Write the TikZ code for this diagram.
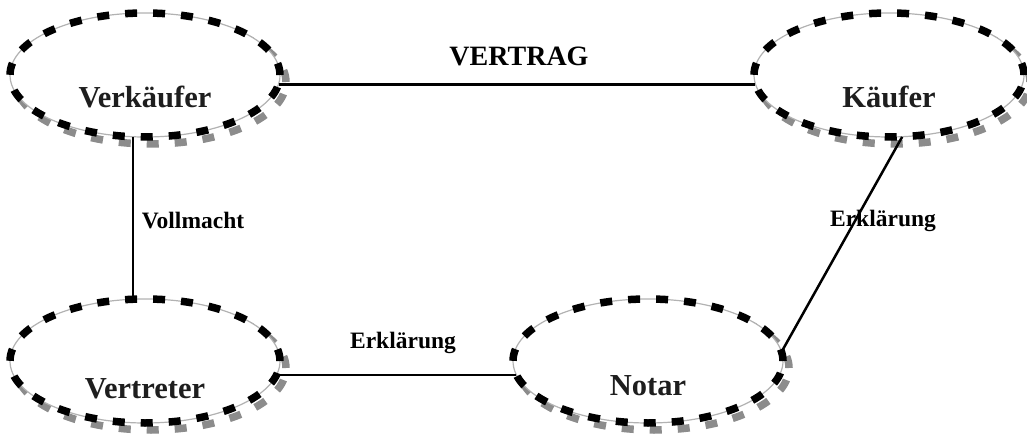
\documentclass[tikz,border=0pt]{standalone}
\usepackage{fontspec}
\setmainfont{Liberation Serif}
\usetikzlibrary{shapes.geometric}
\definecolor{txtc}{HTML}{1E1E1E}
\definecolor{shadc}{HTML}{8C8C8C}
\tikzset{
  ell/.style={ellipse, minimum width=270pt, minimum height=124pt, inner sep=0pt},
  shadowline/.style={draw=shadc, line width=7.5pt, dash pattern=on 12pt off 16pt},
  thinline/.style={draw=gray!60, line width=1.2pt, fill=white},
  dashline/.style={draw=black, line width=7.5pt, dash pattern=on 12pt off 16pt},
  bigtxt/.style={anchor=base, font=\bfseries\fontsize{30.5}{34}\selectfont, text=txtc, inner sep=0pt},
  lbl/.style={anchor=base, font=\bfseries\fontsize{23.5}{27}\selectfont, text=black, inner sep=0pt},
  toplbl/.style={anchor=base, font=\bfseries\fontsize{28}{32}\selectfont, text=black, inner sep=0pt},
  conn/.style={draw=black, line width=2.5pt}
}
\begin{document}
\begin{tikzpicture}[x=1pt,y=1pt]
\useasboundingbox (0,0) rectangle (1027,434);
\node[ell] (vk) at (145,359) {};
\node[ell] (kf) at (889,359) {};
\node[ell] (vt) at (145,73) {};
\node[ell] (nt) at (648,73) {};
\foreach \n in {vk,kf,vt,nt}{
  \draw[shadowline] ([shift={(6,-7)}]\n.center) ellipse [x radius=135, y radius=62];
  \draw[thinline] (\n.center) ellipse [x radius=135, y radius=62];
  \draw[dashline] (\n.center) ellipse [x radius=135, y radius=62];
}
\node[bigtxt] (tvk) at ([yshift=-33]vk.center) {Verkäufer};
\node[bigtxt] (tkf) at ([yshift=-33]kf.center) {Käufer};
\node[bigtxt] (tvt) at ([yshift=-37]vt.center) {Vertreter};
\node[bigtxt] (tnt) at ([yshift=-34]nt.center) {Notar};
\draw[conn] (vk.-4.7) -- (kf.184.7);
\draw[conn] (vk.-101) -- (vt.101);
\draw[conn] (vt.-6) -- (nt.186);
\draw[conn] (nt.4.7) -- (kf.-78);
\node[toplbl] (l1) at (519,368) {VERTRAG};
\node[lbl] (l2) at (193,205) {Vollmacht};
\node[lbl] (l3) at (403,86) {Erklärung};
\node[lbl] (l4) at (883,207) {Erklärung};
\end{tikzpicture}
\end{document}
